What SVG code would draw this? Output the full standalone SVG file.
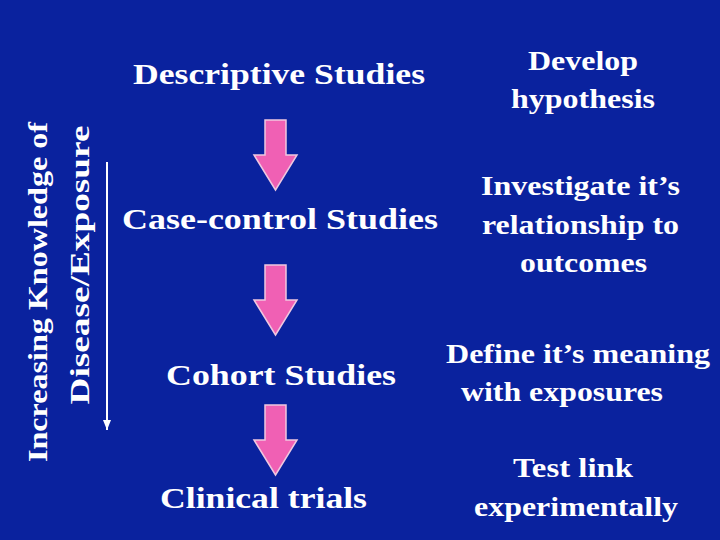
<svg xmlns="http://www.w3.org/2000/svg" width="720" height="540" viewBox="0 0 720 540">
<style>
text{font-family:"Liberation Serif","Times New Roman","DejaVu Serif",serif;font-weight:bold;fill:#fff;text-anchor:middle}
.big{font-size:29px}
.mid{font-size:27px}
.arr{fill:#F060B4;stroke:#F0C8E0;stroke-width:1.5}
</style>
<defs><marker id="ah" markerWidth="10" markerHeight="8" refX="10" refY="4" orient="auto" markerUnits="userSpaceOnUse"><path d="M0,0 L10,4 L0,8 Z" fill="#fff"/></marker></defs>
<rect width="720" height="540" fill="#0A229E"/>
<g id="axis">
<text class="mid" transform="translate(47,292) rotate(-90)" textLength="340" lengthAdjust="spacingAndGlyphs">Increasing Knowledge of</text>
<text class="mid" transform="translate(89,265) rotate(-90)" textLength="279" lengthAdjust="spacingAndGlyphs">Disease/Exposure</text>
</g>
<g id="connectors">
<line x1="107" y1="162" x2="107" y2="430" stroke="#fff" stroke-width="2" marker-end="url(#ah)"/>
<path class="arr" d="M265,120 H286 V155 H297 L275.5,190 L254,155 H265 Z"/>
<path class="arr" d="M265,265 H286 V300 H297 L275.5,335 L254,300 H265 Z"/>
<path class="arr" d="M265,405 H286 V440 H297 L275.5,475 L254,440 H265 Z"/>
</g>
<g id="descriptive"><text class="big" x="279" y="84" textLength="292" lengthAdjust="spacingAndGlyphs">Descriptive Studies</text></g>
<g id="casecontrol"><text class="big" x="280" y="229" textLength="316" lengthAdjust="spacingAndGlyphs">Case-control Studies</text></g>
<g id="cohort"><text class="big" x="281" y="385" textLength="230" lengthAdjust="spacingAndGlyphs">Cohort Studies</text></g>
<g id="clinical"><text class="big" x="263.5" y="508" textLength="207" lengthAdjust="spacingAndGlyphs">Clinical trials</text></g>
<g id="develop"><text class="mid" x="583" y="70" textLength="110" lengthAdjust="spacingAndGlyphs">Develop</text><text class="mid" x="583" y="108" textLength="144" lengthAdjust="spacingAndGlyphs">hypothesis</text></g>
<g id="investigate"><text class="mid" x="580.5" y="195" textLength="199" lengthAdjust="spacingAndGlyphs">Investigate it’s</text><text class="mid" x="580.5" y="234" textLength="197" lengthAdjust="spacingAndGlyphs">relationship to</text><text class="mid" x="583.5" y="272" textLength="127" lengthAdjust="spacingAndGlyphs">outcomes</text></g>
<g id="define"><text class="mid" x="578" y="363" textLength="264" lengthAdjust="spacingAndGlyphs">Define it’s meaning</text><text class="mid" x="562" y="401" textLength="202" lengthAdjust="spacingAndGlyphs">with exposures</text></g>
<g id="test"><text class="mid" x="573" y="477" textLength="120" lengthAdjust="spacingAndGlyphs">Test link</text><text class="mid" x="576" y="516" textLength="204" lengthAdjust="spacingAndGlyphs">experimentally</text></g>
</svg>
